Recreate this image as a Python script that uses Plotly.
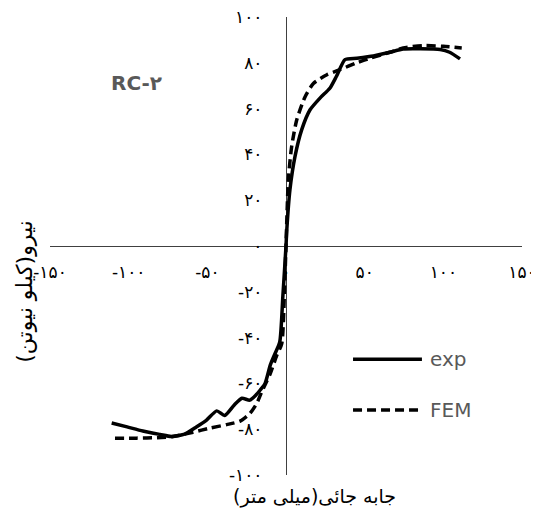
import plotly.graph_objects as go

# ---- data ----
exp_x = [-110.8, -101, -91, -80, -73, -65, -57, -50.5, -44, -39, -33, -28, -23, -19, -16.5,
         -13.3, -10, -7, -4, -2, 0, 0.5, 2.5, 5.7, 10, 15.3, 21.6, 28, 32, 37.5, 45, 55.5,
         66, 74.5, 85, 98, 104, 110.6]
exp_y = [-77.3, -79, -80.8, -82.3, -83.2, -82.3, -79, -76, -72, -74, -69.5, -66.5, -67.3,
         -65, -63, -60, -52, -47, -42, -22, 0, 7, 24.5, 39, 50.8, 59.5, 64.6, 69, 74, 81.4,
         82, 83, 84.6, 86, 86.1, 85.8, 84.6, 81.7]

fem_x = [-108.7, -95, -82, -71.6, -59, -48.3, -37.7, -29.2, -23, -18.6, -15.5, -10, -6,
         -2.7, -1, 0, 1.5, 3.6, 6.8, 12, 17.4, 26, 34.3, 45, 53.4, 66, 74.5, 87, 100, 111.7]
fem_y = [-83.9, -83.9, -83.7, -83.2, -81.3, -79.5, -78, -76.5, -73.2, -68.8, -63.8, -55.7,
         -48, -42.6, -20, 0, 29, 43.5, 55, 65, 71, 74.8, 77, 80, 82, 84.6, 86.5, 87.5,
         87.2, 86.5]

x_tickvals = [-150, -100, -50, 0, 50, 100, 150]
x_ticktext = ["-۱۵۰", "-۱۰۰", "-۵۰", "۰", "۵۰", "۱۰۰", "۱۵۰"]
y_tickvals = [-100, -80, -60, -40, -20, 0, 20, 40, 60, 80, 100]
y_ticktext = ["-۱۰۰", "-۸۰", "-۶۰", "-۴۰", "-۲۰", "۰", "۲۰", "۴۰", "۶۰", "۸۰", "۱۰۰"]

series_names = ["exp", "FEM"]
title_text = "RC-۲"
x_title = "جابه جائی(میلی متر)"
y_title = "نیرو(کیلو نیوتن)"

FONT = "DejaVu Sans"
DASH = "9px,5px"

fig = go.Figure()
fig.add_trace(go.Scatter(x=exp_x, y=exp_y, mode="lines", name=series_names[0],
                         line=dict(color="black", width=3.5, shape="spline", smoothing=0.6),
                         showlegend=False, cliponaxis=False))
fig.add_trace(go.Scatter(x=fem_x, y=fem_y, mode="lines", name=series_names[1],
                         line=dict(color="black", width=3.5, dash=DASH, shape="spline",
                                   smoothing=0.6),
                         showlegend=False, cliponaxis=False))

axis_common = dict(showgrid=False, zeroline=False, showline=True, linecolor="#404040",
                   linewidth=1.2, anchor="free", position=0.5, ticks="outside",
                   automargin=False, layer="below traces", ticklabeloverflow="allow",
                   tickcolor="rgba(0,0,0,0)", tickfont=dict(family=FONT, size=17, color="black"))

# the page adds an 8px body margin, so the figure is 8px smaller than the window
fig.update_layout(
    width=531, height=513, autosize=False,
    margin=dict(l=42, r=17, t=9, b=46),
    paper_bgcolor="white", plot_bgcolor="white",
    xaxis=dict(range=[-150, 150], tickvals=x_tickvals, ticktext=x_ticktext, ticklen=10,
               **axis_common),
    yaxis=dict(range=[-100, 100], tickvals=y_tickvals, ticktext=y_ticktext, ticklen=20,
               **axis_common),
    showlegend=False,
)

# title and axis titles
fig.add_annotation(text="<b>" + title_text + "</b>", xref="paper", yref="paper",
                   x=0.184, y=0.856, xanchor="center", yanchor="middle", showarrow=False,
                   font=dict(family=FONT, size=20, color="#595959"))
fig.add_annotation(text=x_title, xref="paper", yref="paper", x=0.561, y=-0.048,
                   xanchor="center", yanchor="middle",
                   showarrow=False, font=dict(family=FONT, size=19, color="black"))
fig.add_annotation(text=y_title, xref="paper", yref="paper", x=-0.053, y=0.40,
                   xanchor="center", yanchor="middle",
                   textangle=-90, showarrow=False,
                   font=dict(family=FONT, size=22, color="black"))

# manual legend (long line samples as in the reference)
legend_rows = [(series_names[0], 0.253, "solid"), (series_names[1], 0.142, DASH)]
for name, yy, dash in legend_rows:
    fig.add_shape(type="line", xref="paper", yref="paper", x0=0.642, x1=0.788, y0=yy, y1=yy,
                  line=dict(color="black", width=3.5, dash=dash))
    fig.add_annotation(text=name, xref="paper", yref="paper", x=0.801, y=yy,
                       xanchor="left", yanchor="middle", showarrow=False,
                       font=dict(family=FONT, size=20, color="#595959"))

fig.write_html("out.html")
